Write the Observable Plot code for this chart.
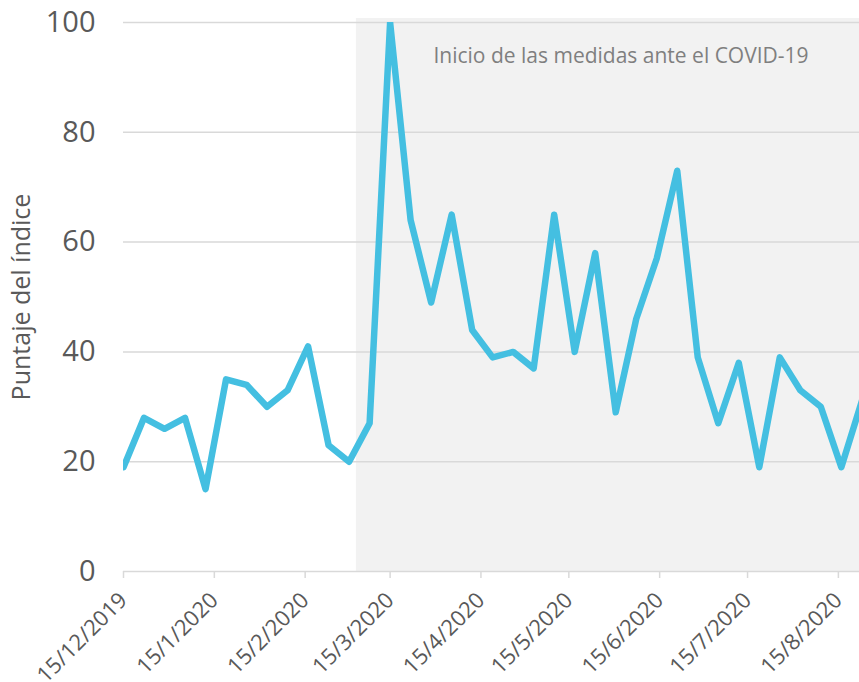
<!DOCTYPE html>
<html><head><meta charset="utf-8">
<script src="https://cdn.jsdelivr.net/npm/d3@7"></script>
<script src="https://cdn.jsdelivr.net/npm/@observablehq/plot@0.6"></script>
<style>body{margin:0;background:#fff}</style>
</head><body><div id="chart"></div>
<script>
const weeks = ["2019-12-15","2019-12-22","2019-12-29","2020-01-05","2020-01-12","2020-01-19","2020-01-26",
  "2020-02-02","2020-02-09","2020-02-16","2020-02-23","2020-03-01","2020-03-08","2020-03-15","2020-03-22",
  "2020-03-29","2020-04-05","2020-04-12","2020-04-19","2020-04-26","2020-05-03","2020-05-10","2020-05-17",
  "2020-05-24","2020-05-31","2020-06-07","2020-06-14","2020-06-21","2020-06-28","2020-07-05","2020-07-12",
  "2020-07-19","2020-07-26","2020-08-02","2020-08-09","2020-08-16","2020-08-23"];
const scores = [19,28,26,28,15,35,34,30,33,41,23,20,27,100,64,49,65,44,39,40,37,65,40,58,29,46,57,73,39,27,38,19,39,33,30,19,31];
const tickDates = ["2019-12-15","2020-01-15","2020-02-15","2020-03-15","2020-04-15","2020-05-15","2020-06-15","2020-07-15","2020-08-15"];
const tickLabels = ["15/12/2019","15/1/2020","15/2/2020","15/3/2020","15/4/2020","15/5/2020","15/6/2020","15/7/2020","15/8/2020"];
const yTicks = [0,20,40,60,80,100];
const xStart = "2019-12-15";
const xEnd = "2020-08-22T05:00:00Z";
const covidStart = "2020-03-03T12:00:00Z";
const annotation = "Inicio de las medidas ante el COVID-19";
const yLabel = "Puntaje del índice";

const data = weeks.map((w, i) => ({date: new Date(w), score: scores[i]}));
const labelMap = new Map(tickDates.map((d, i) => [+new Date(d), tickLabels[i]]));
const shade = [{start: new Date(covidStart), end: new Date(xEnd)}];

const chart = Plot.plot({
  width: 859, height: 682,
  marginLeft: 123, marginRight: 0, marginTop: 22, marginBottom: 111,
  style: {fontFamily: "'Open Sans', sans-serif", background: "#fff"},
  x: {type: "utc", domain: [new Date(xStart), new Date(xEnd)]},
  y: {domain: [0, 100]},
  marks: [
    Plot.rect(shade, {x1: "start", x2: "end", y1: 0, y2: 100, insetTop: -4, fill: "#f2f2f2"}),
    Plot.ruleY(yTicks, {stroke: "#d9d9d9", strokeWidth: 1.5}),
    Plot.axisY(yTicks, {tickSize: 0, tickPadding: 28, fontSize: 29, fill: "#595959", label: null}),
    Plot.axisX(tickDates.map(d => new Date(d)), {
      tickSize: 7, stroke: "#d9d9d9", strokeWidth: 1.5, strokeOpacity: 1,
      tickRotate: -45, tickPadding: 18, fontSize: 22, fill: "#595959",
      tickFormat: d => labelMap.get(+d), label: null
    }),
    Plot.line(data, {x: "date", y: "score", stroke: "#44bfe1", strokeWidth: 6.5, strokeLinejoin: "round", strokeLinecap: "round", clip: true}),
    Plot.text([{d: new Date(covidStart), t: annotation}], {x: "d", text: "t", frameAnchor: "top", textAnchor: "start", dx: 77, dy: 25.6, fontSize: 21, fill: "#7f7f7f"}),
    Plot.text([yLabel], {text: d => d, frameAnchor: "left", textAnchor: "middle", rotate: -90, dx: -102, fontSize: 25, fill: "#595959"})
  ]
});
document.getElementById("chart").append(chart);
</script>
</body></html>
